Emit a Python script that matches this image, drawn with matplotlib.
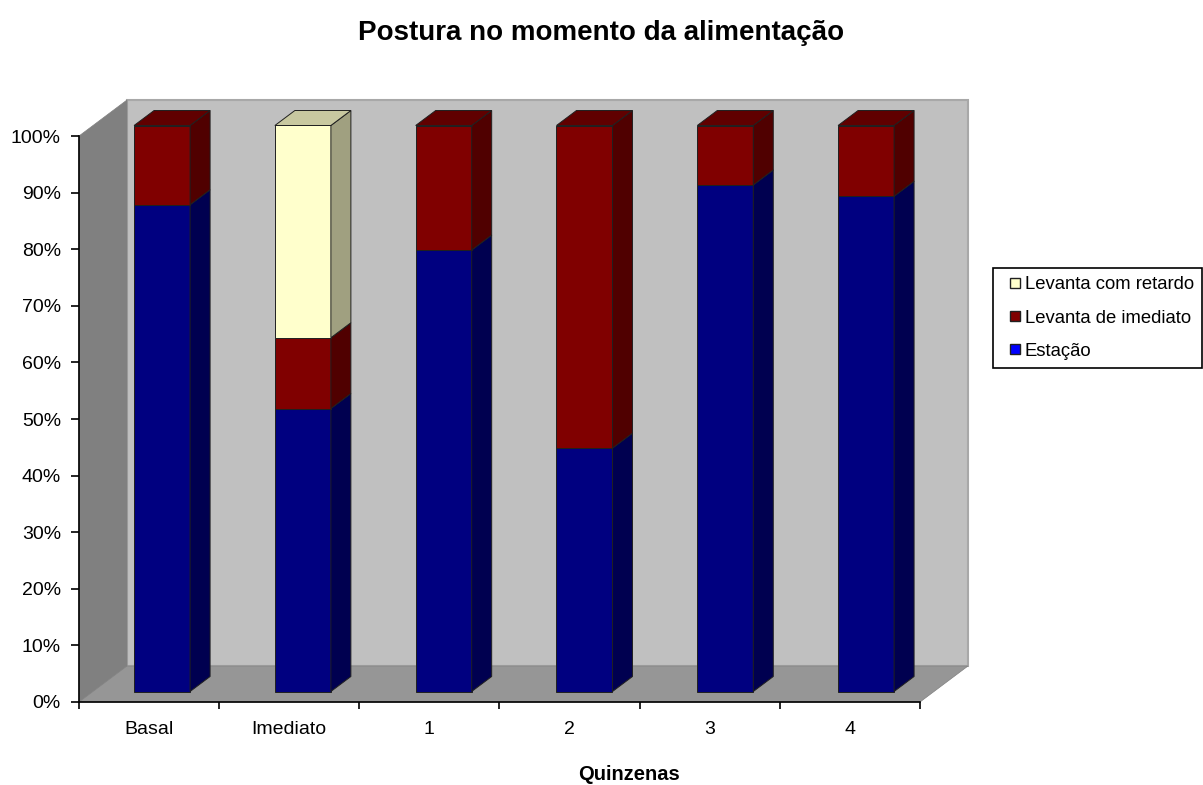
import matplotlib
matplotlib.use('Agg')
import matplotlib.pyplot as plt
from matplotlib.lines import Line2D
import numpy as np

plt.rcParams['font.family'] = ['Liberation Sans', 'DejaVu Sans']

categorias = ['Basal', 'Imediato', '1', '2', '3', '4']
estacao = [86, 50, 78, 43, 89.5, 87.5]
imediato = [14, 12.5, 22, 57, 10.5, 12.5]
retardo = [0, 37.5, 0, 0, 0, 0]

series = [
    ('Estação', estacao, '#000080', '#000050', '#000060'),
    ('Levanta de imediato', imediato, '#800000', '#500000', '#600000'),
    ('Levanta com retardo', retardo, '#FFFFCC', '#A0A080', '#C8C8A0'),
]

W, H = 1203, 785
L, R, T, B = 79, 920, 136, 702

fig = plt.figure(figsize=(W / 100, H / 100), dpi=100)
ax = fig.add_axes([L / W, 1 - B / H, (R - L) / W, (B - T) / H])
ax.set_xlim(-0.5, 5.5)
ax.set_ylim(0, 100)
ax.patch.set_visible(False)

px = 6 / (R - L)
py = 100 / (B - T)

# walls, in data units from the front plane
wx, wy = 48 * px, 36 * py
ax.fill([-0.5 + wx, 5.5 + wx, 5.5 + wx, -0.5 + wx], [wy, wy, 100 + wy, 100 + wy],
        fc='#C0C0C0', ec='#A8A8A8', lw=1.5, clip_on=False, zorder=1)
ax.fill([-0.5, -0.5 + wx, -0.5 + wx, -0.5], [0, wy, 100 + wy, 100],
        fc='#808080', ec='#808080', lw=0.5, clip_on=False, zorder=1)
ax.fill([-0.5, 5.5, 5.5 + wx, -0.5 + wx], [0, 0, wy, wy],
        fc='#969696', ec='#808080', lw=0.5, clip_on=False, zorder=1)

# bar box offset and depth
bw = 56 * px
ox, oy = 13 * px, 10.5 * py
dx, dy = 20 * px, 15 * py
x = np.arange(len(categorias))
xb = x * 140.8 * px + ox

base = np.zeros(len(categorias))
for nome, vals, cor, lado, topo in series:
    vals = np.array(vals, dtype=float)
    ax.bar(xb, vals, bw, bottom=base + oy, color=cor, edgecolor='#202020',
           linewidth=0.7, clip_on=False, zorder=3)
    for i in x:
        if vals[i] == 0:
            continue
        x1 = xb[i] + bw / 2
        y0 = base[i] + oy
        y1 = y0 + vals[i]
        ax.fill([x1, x1 + dx, x1 + dx, x1], [y0, y0 + dy, y1 + dy, y1],
                fc=lado, ec='#202020', lw=0.7, clip_on=False, zorder=3)
        if base[i] + vals[i] >= 99.9:
            ax.fill([x1 - bw, x1, x1 + dx, x1 - bw + dx], [y1, y1, y1 + dy, y1 + dy],
                    fc=topo, ec='#202020', lw=0.7, clip_on=False, zorder=3)
    base = base + vals

ax.set_yticks(np.arange(0, 101, 10))
ax.set_yticklabels(['%d%%' % v for v in range(0, 101, 10)], fontsize=14)
ax.set_xticks(np.arange(-0.5, 6, 1))
ax.set_xticklabels([])
ax.set_xticks(x, categorias, minor=True, fontsize=14)
ax.tick_params(axis='x', which='major', length=5, width=1.2, color='black')
ax.tick_params(axis='x', which='minor', length=0, pad=13.5)
ax.tick_params(axis='y', length=6, width=1.2, color='black', pad=7)
for s in ['top', 'right']:
    ax.spines[s].set_visible(False)
for s in ['left', 'bottom']:
    ax.spines[s].set_linewidth(1.2)
    ax.spines[s].set_zorder(4)

fig.text(601 / W, 1 - 33 / H, 'Postura no momento da alimentação', fontsize=20,
         fontweight='bold', ha='center', va='center')
fig.text(629 / W, 1 - 774 / H, 'Quinzenas', fontsize=14.5,
         fontweight='bold', ha='center', va='center')

handles = [Line2D([], [], ls='', marker='s', ms=6.5, mfc=c, mec='#202020', mew=1, label=n)
           for c, n in [('#FFFFCC', 'Levanta com retardo'),
                        ('#800000', 'Levanta de imediato'),
                        ('#0000FF', 'Estação')]]
leg = fig.legend(handles=handles, loc='upper left', bbox_to_anchor=(993 / W, 1 - 268 / H),
                 borderaxespad=0, fontsize=13.3, handlelength=1.46, numpoints=1,
                 handletextpad=-0.2, labelspacing=0.88, borderpad=0.45, fancybox=False,
                 edgecolor='black', framealpha=1)
leg.get_frame().set_linewidth(1.2)

fig.savefig('out.png', dpi=100)
